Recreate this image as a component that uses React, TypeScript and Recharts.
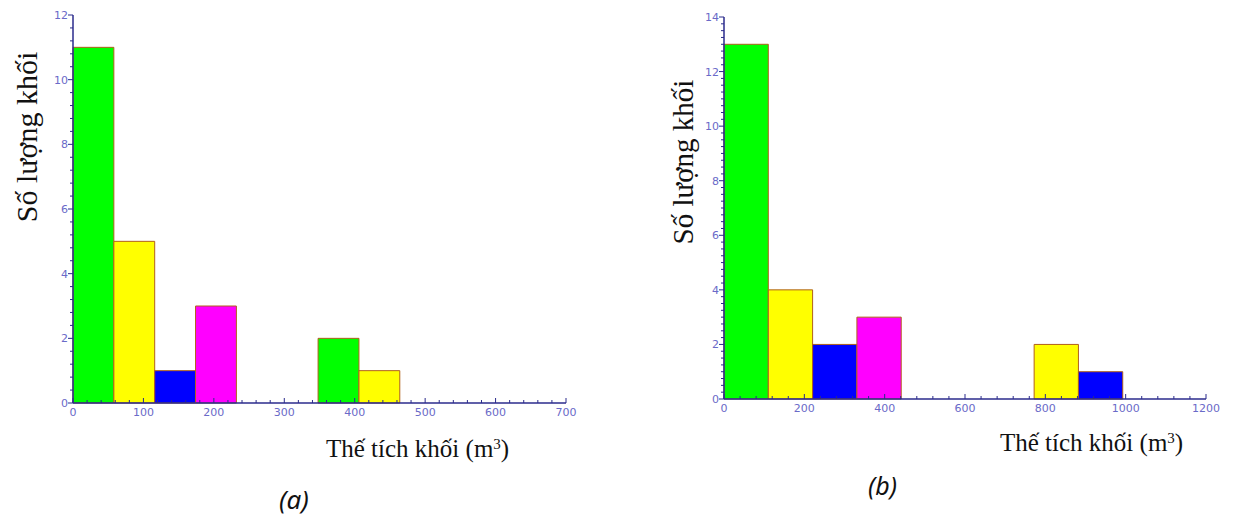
import React from 'react';
import { ComposedChart, XAxis, YAxis, ReferenceArea } from 'recharts';

// Chart (a)
const binStartA = [0, 58, 116, 174, 348, 406];
const binEndA = [58, 116, 174, 232, 406, 464];
const countA = [11, 5, 1, 3, 2, 1];
const colorA = ['#00ff00', '#ffff00', '#0000ff', '#ff00ff', '#00ff00', '#ffff00'];
const xMajorA = [0, 100, 200, 300, 400, 500, 600, 700];
const yMajorA = [0, 2, 4, 6, 8, 10, 12];

// Chart (b)
const binStartB = [0, 110.3, 220.6, 330.9, 772.1, 882.4];
const binEndB = [110.3, 220.6, 330.9, 441.2, 882.4, 992.7];
const countB = [13, 4, 2, 3, 2, 1];
const colorB = ['#00ff00', '#ffff00', '#0000ff', '#ff00ff', '#ffff00', '#0000ff'];
const xMajorB = [0, 200, 400, 600, 800, 1000, 1200];
const yMajorB = [0, 2, 4, 6, 8, 10, 12, 14];

const yTitle = 'Số lượng khối';
const xTitle = 'Thế tích khối (m';

const AXIS = '#2b2b8c';
const LABEL = '#6a6ac8';
const EDGE = '#b0601a';

function range(a: number, b: number, step: number) {
  const out: number[] = [];
  for (let i = 0; a + i * step <= b + 1e-9; i++) out.push(+(a + i * step).toFixed(4));
  return out;
}

const makeXTick = (majors: number[]) => (props: any) => {
  const { x, y, payload } = props;
  const isMajor = majors.includes(payload.value);
  return (
    <g>
      <line x1={x} x2={x} y1={y} y2={y - (isMajor ? 5 : 3)} stroke={AXIS} strokeWidth={1} />
      {isMajor && (
        <text x={x} y={y + 13} textAnchor="middle" fill={LABEL} fontSize={11} fontFamily="DejaVu Sans, sans-serif">
          {payload.value}
        </text>
      )}
    </g>
  );
};

const makeYTick = (majors: number[]) => (props: any) => {
  const { x, y, payload } = props;
  const isMajor = majors.includes(payload.value);
  return (
    <g>
      <line x1={x} x2={x - (isMajor ? 5 : 3)} y1={y} y2={y} stroke={AXIS} strokeWidth={1} />
      {isMajor && (
        <text x={x - 5} y={y + 4} textAnchor="end" fill={LABEL} fontSize={11} fontFamily="DejaVu Sans, sans-serif">
          {payload.value}
        </text>
      )}
    </g>
  );
};

function Histogram(props: {
  width: number; height: number; margin: any;
  starts: number[]; ends: number[]; counts: number[]; colors: string[];
  xMax: number; yMax: number; xMajor: number[]; yMajor: number[]; xStep: number; yStep: number;
}) {
  const { width, height, margin, starts, ends, counts, colors, xMax, yMax, xMajor, yMajor, xStep, yStep } = props;
  const data = starts.map((s, i) => ({ x: s, y: counts[i] }));
  return (
    <ComposedChart width={width} height={height} margin={margin} data={data}>
      <XAxis
        type="number"
        dataKey="x"
        domain={[0, xMax]}
        ticks={range(0, xMax, xStep)}
        interval={0}
        tickSize={0}
        tickMargin={0}
        tickLine={false}
        height={17}
        axisLine={{ stroke: AXIS, strokeWidth: 1.5 }}
        tick={makeXTick(xMajor)}
        allowDataOverflow
      />
      <YAxis
        type="number"
        domain={[0, yMax]}
        ticks={range(0, yMax, yStep)}
        interval={0}
        tickSize={0}
        tickMargin={0}
        tickLine={false}
        width={20}
        axisLine={{ stroke: AXIS, strokeWidth: 1.5 }}
        tick={makeYTick(yMajor)}
        allowDataOverflow
      />
      {starts.map((s, i) => (
        <ReferenceArea
          key={i}
          x1={s}
          x2={ends[i]}
          y1={0}
          y2={counts[i]}
          fill={colors[i]}
          fillOpacity={1}
          stroke={EDGE}
          strokeWidth={1}
          ifOverflow="visible"
        />
      ))}
    </ComposedChart>
  );
}

const serif = '"Liberation Serif", "Times New Roman", serif';
const supStyle: React.CSSProperties = { fontSize: 15, verticalAlign: 'top', lineHeight: 1, position: 'relative', top: 1 };

export default function App() {
  return (
    <div style={{ position: 'fixed', left: 0, top: 0, width: 1237, height: 521, background: '#fff', overflow: 'hidden' }}>
      <div style={{ position: 'absolute', left: 0, top: 0 }}>
        <Histogram
          width={600} height={420} margin={{ top: 15, right: 34, left: 53, bottom: 0 }}
          starts={binStartA} ends={binEndA} counts={countA} colors={colorA}
          xMax={700} yMax={12} xMajor={xMajorA} yMajor={yMajorA} xStep={20} yStep={0.4}
        />
      </div>
      <div style={{ position: 'absolute', left: 640, top: 0 }}>
        <Histogram
          width={600} height={420} margin={{ top: 17, right: 34, left: 64, bottom: 4 }}
          starts={binStartB} ends={binEndB} counts={countB} colors={colorB}
          xMax={1200} yMax={14} xMajor={xMajorB} yMajor={yMajorB} xStep={40} yStep={0.25}
        />
      </div>

      {/* Axis titles (a) */}
      <div style={{ position: 'absolute', left: 27, top: 137, transform: 'translate(-50%, -50%) rotate(-90deg)', whiteSpace: 'nowrap', fontFamily: serif, fontSize: 30, lineHeight: 1, color: '#111' }}>
        {yTitle}
      </div>
      <div style={{ position: 'absolute', left: 326, top: 436, whiteSpace: 'nowrap', fontFamily: serif, fontSize: 25, lineHeight: 1, color: '#111' }}>
        {xTitle}<span style={supStyle}>3</span>)
      </div>
      <div style={{ position: 'absolute', left: 279, top: 484, fontFamily: '"Noto Sans", sans-serif', fontStyle: 'italic', fontSize: 26, lineHeight: 1.2, color: '#111' }}>
        (a)
      </div>

      {/* Axis titles (b) */}
      <div style={{ position: 'absolute', left: 683, top: 162, transform: 'translate(-50%, -50%) rotate(-90deg)', whiteSpace: 'nowrap', fontFamily: serif, fontSize: 29, lineHeight: 1, color: '#111' }}>
        {yTitle}
      </div>
      <div style={{ position: 'absolute', left: 1000, top: 430, whiteSpace: 'nowrap', fontFamily: serif, fontSize: 25, lineHeight: 1, color: '#111' }}>
        {xTitle}<span style={supStyle}>3</span>)
      </div>
      <div style={{ position: 'absolute', left: 868, top: 470, fontFamily: '"Noto Sans", sans-serif', fontStyle: 'italic', fontSize: 25, lineHeight: 1.2, color: '#111' }}>
        (b)
      </div>
    </div>
  );
}
